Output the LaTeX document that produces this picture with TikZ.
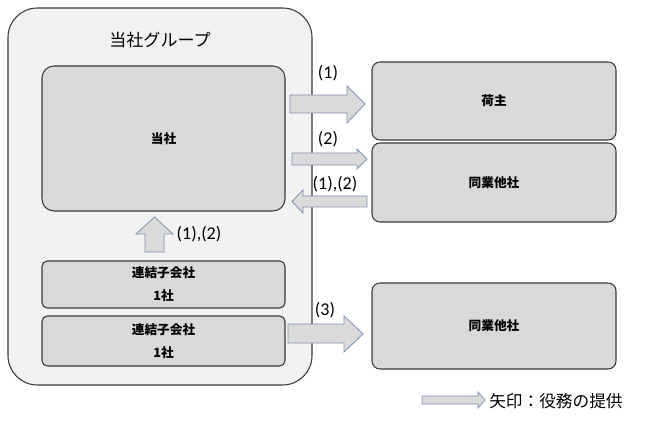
\documentclass[tikz,border=0pt]{standalone}
\usepackage{fontspec}
\setmainfont{Noto Sans CJK JP}
\newfontfamily\lat{Carlito}
\definecolor{grpfill}{HTML}{F2F2F2}
\definecolor{boxfill}{HTML}{D9D9D9}
\definecolor{boxline}{HTML}{3A3A3A}
\definecolor{arrline}{HTML}{7F93B2}
\definecolor{arrfill}{HTML}{DADADA}
\begin{document}
\begin{tikzpicture}[x=0.75pt,y=-0.75pt,
  grp/.style={draw=boxline, fill=grpfill, line width=0.8pt, rounded corners=22pt},
  bigbox/.style={draw=boxline, fill=boxfill, line width=0.8pt, rounded corners=9pt},
  rbox/.style={draw=boxline, fill=boxfill, line width=0.8pt, rounded corners=6pt},
  sbox/.style={draw=boxline, fill=boxfill, line width=0.8pt, rounded corners=4pt},
  barrow/.style={draw=arrline, fill=arrfill, line width=0.6pt, line join=miter},
  btxt/.style={font=\fontsize{9.5}{17}\selectfont\bfseries, align=center, inner sep=0pt},
  lbl/.style={font=\lat\fontsize{13.5}{15}\selectfont, inner sep=0pt}]
\useasboundingbox (0,0) rectangle (648,423);
% group
\draw[grp] (8,8) rectangle (312,385);
\node[font=\fontsize{12.8}{14}\selectfont, inner sep=0pt] (title) at (160,40) {当社グループ};
% boxes
\draw[bigbox] (42,66) rectangle (285,211);
\node[btxt] (tosha) at (163.5,138.5) {当社};
\draw[sbox] (42,261) rectangle (285,308);
\node[btxt] (sub1) at (163.5,284.5) {連結子会社\\1社};
\draw[sbox] (42,316) rectangle (285,366);
\node[btxt] (sub2) at (163.5,341) {連結子会社\\1社};
\draw[rbox] (372,62) rectangle (616,140);
\node[btxt] (ninushi) at (494,101) {荷主};
\draw[rbox] (372,143) rectangle (616,222);
\node[btxt] (dogyo1) at (494,182.5) {同業他社};
\draw[rbox] (372,283) rectangle (616,369);
\node[btxt] (dogyo2) at (494,326) {同業他社};
% block arrows
\draw[barrow] (290,95)--(347,95)--(347,86)--(365,104)--(347,123)--(347,113)--(290,113)--cycle;
\draw[barrow] (292,153)--(357,153)--(357,149)--(367,159)--(357,169)--(357,165)--(292,165)--cycle;
\draw[barrow] (367,196)--(303,196)--(303,190)--(292,201.5)--(303,213)--(303,207)--(367,207)--cycle;
\draw[barrow] (288,324)--(344,324)--(344,316)--(363,334)--(344,352)--(344,343)--(288,343)--cycle;
\draw[barrow] (145,252)--(145,234)--(136,234)--(154.5,217)--(173,234)--(164,234)--(164,252)--cycle;
\draw[barrow] (422,396)--(478,396)--(478,392)--(485,400)--(478,408)--(478,404)--(422,404)--cycle;
% labels
\node[lbl] (l1) at (328,73) {(1)};
\node[lbl] (l2) at (328,139) {(2)};
\node[lbl] (l12) at (335,184) {(1),(2)};
\node[lbl] (l3) at (325,310) {(3)};
\node[lbl] (lup) at (199,234) {(1),(2)};
\node[font=\fontsize{12.5}{14}\selectfont, inner sep=0pt, anchor=west] (legend) at (489,401) {矢印：役務の提供};
\end{tikzpicture}
\end{document}
